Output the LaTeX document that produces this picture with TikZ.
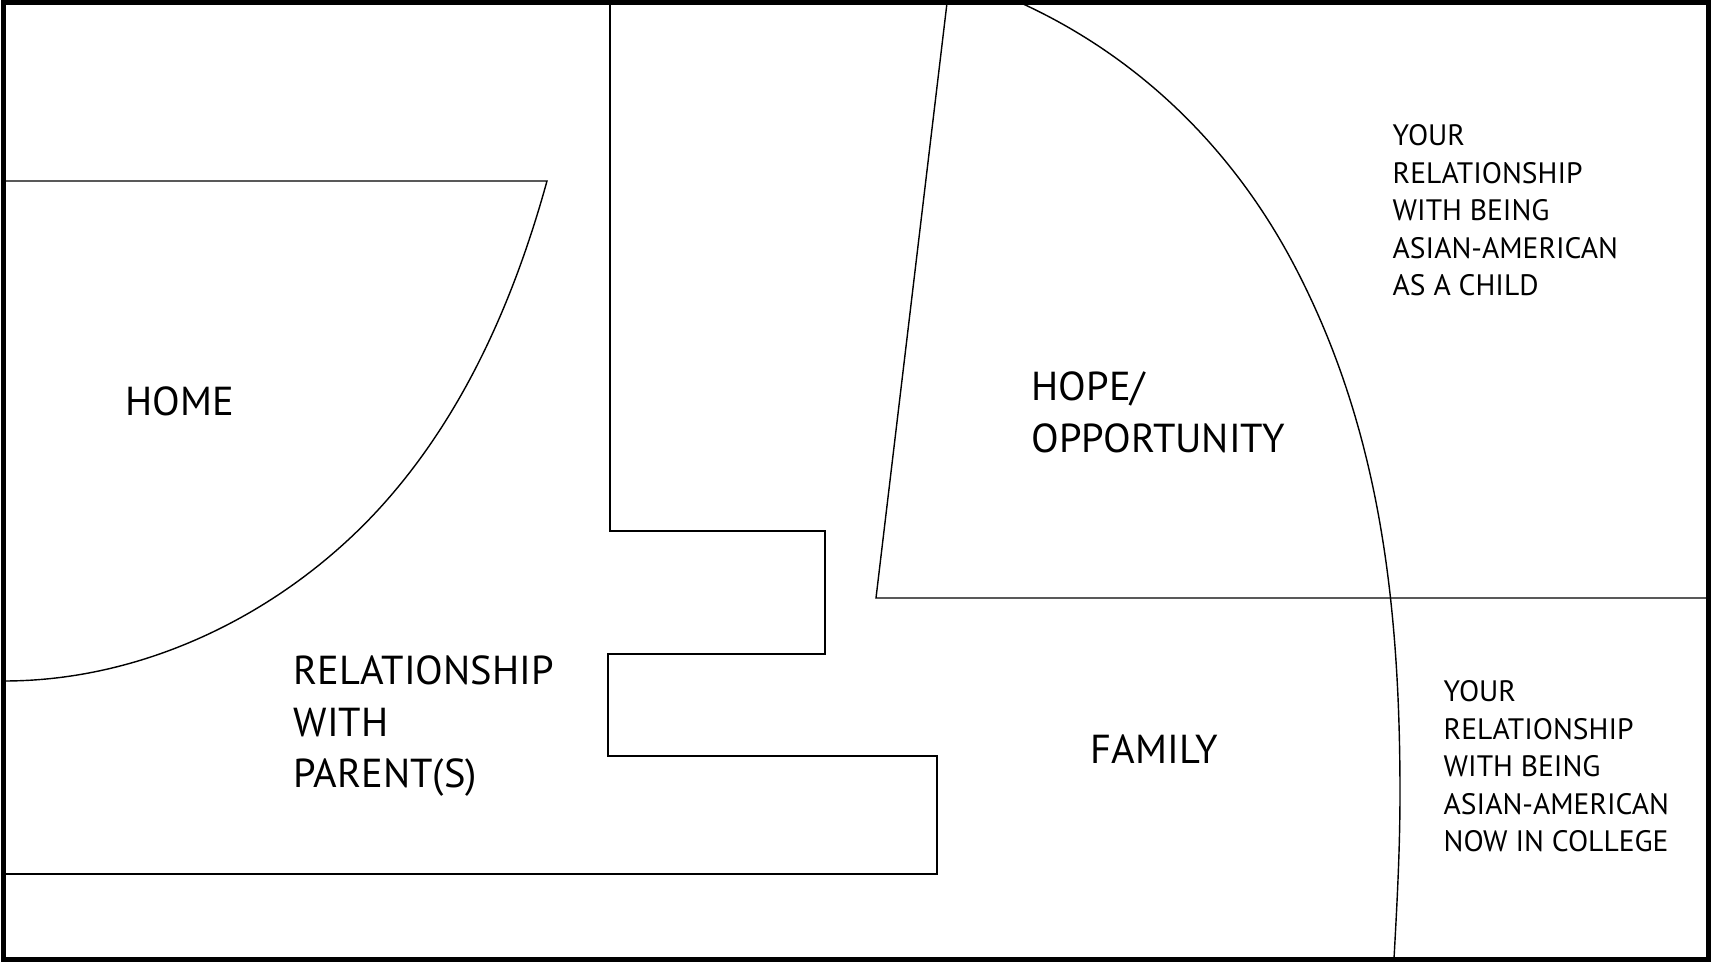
\documentclass[tikz,border=0pt]{standalone}
\usepackage{fontspec}
\setmainfont{PT Sans}
\usepackage{tikz}

\begin{document}
\begin{tikzpicture}[x=0.01cm,y=-0.01cm,
    thin line/.style={line width=0.4pt},
    big label/.style={font=\fontsize{11.5}{14.65}\selectfont,align=left,inner sep=0pt},
    small label/.style={font=\fontsize{8.4}{10.67}\selectfont,align=left,inner sep=0pt}]
  \useasboundingbox (0,0) rectangle (1714,964);
  \draw[line width=1.28pt] (3.5,2.5) rectangle (1708.3,959.3);

  \draw[thin line] (4,181) -- (547,181) .. controls (515,297) and (466,410) .. (387,500)
    .. controls (295,605) and (154,681) .. (4,681);
  \draw[thin line] (610,3) |- (825,531) |- (608,654) |- (937,756) |- (4,874);
  \draw[thin line] (947,3) -- (876,598) -- (1708,598);
  \draw[thin line] (1021,3) .. controls (1139,57) and (1232,148) .. (1293,263)
    .. controls (1377,422) and (1400,593) .. (1400,793)
    .. controls (1400,850) and (1397,904) .. (1394,959);

  \node[big label,anchor=base west] (home) at (125,416) {HOME};
  \node[big label,anchor=north west] (parents) at (293,655) {RELATIONSHIP\\WITH\\PARENT(S)};
  \node[big label,anchor=north west] (hope) at (1031,371) {HOPE/\\OPPORTUNITY};
  \node[big label,anchor=base west] (family) at (1090,764) {FAMILY};
  \node[small label,anchor=north west] (child) at (1392,124) {YOUR\\RELATIONSHIP\\WITH BEING\\ASIAN-AMERICAN\\AS A CHILD};
  \node[small label,anchor=north west] (college) at (1443,680) {YOUR\\RELATIONSHIP\\WITH BEING\\ASIAN-AMERICAN\\NOW IN COLLEGE};
\end{tikzpicture}
\end{document}
